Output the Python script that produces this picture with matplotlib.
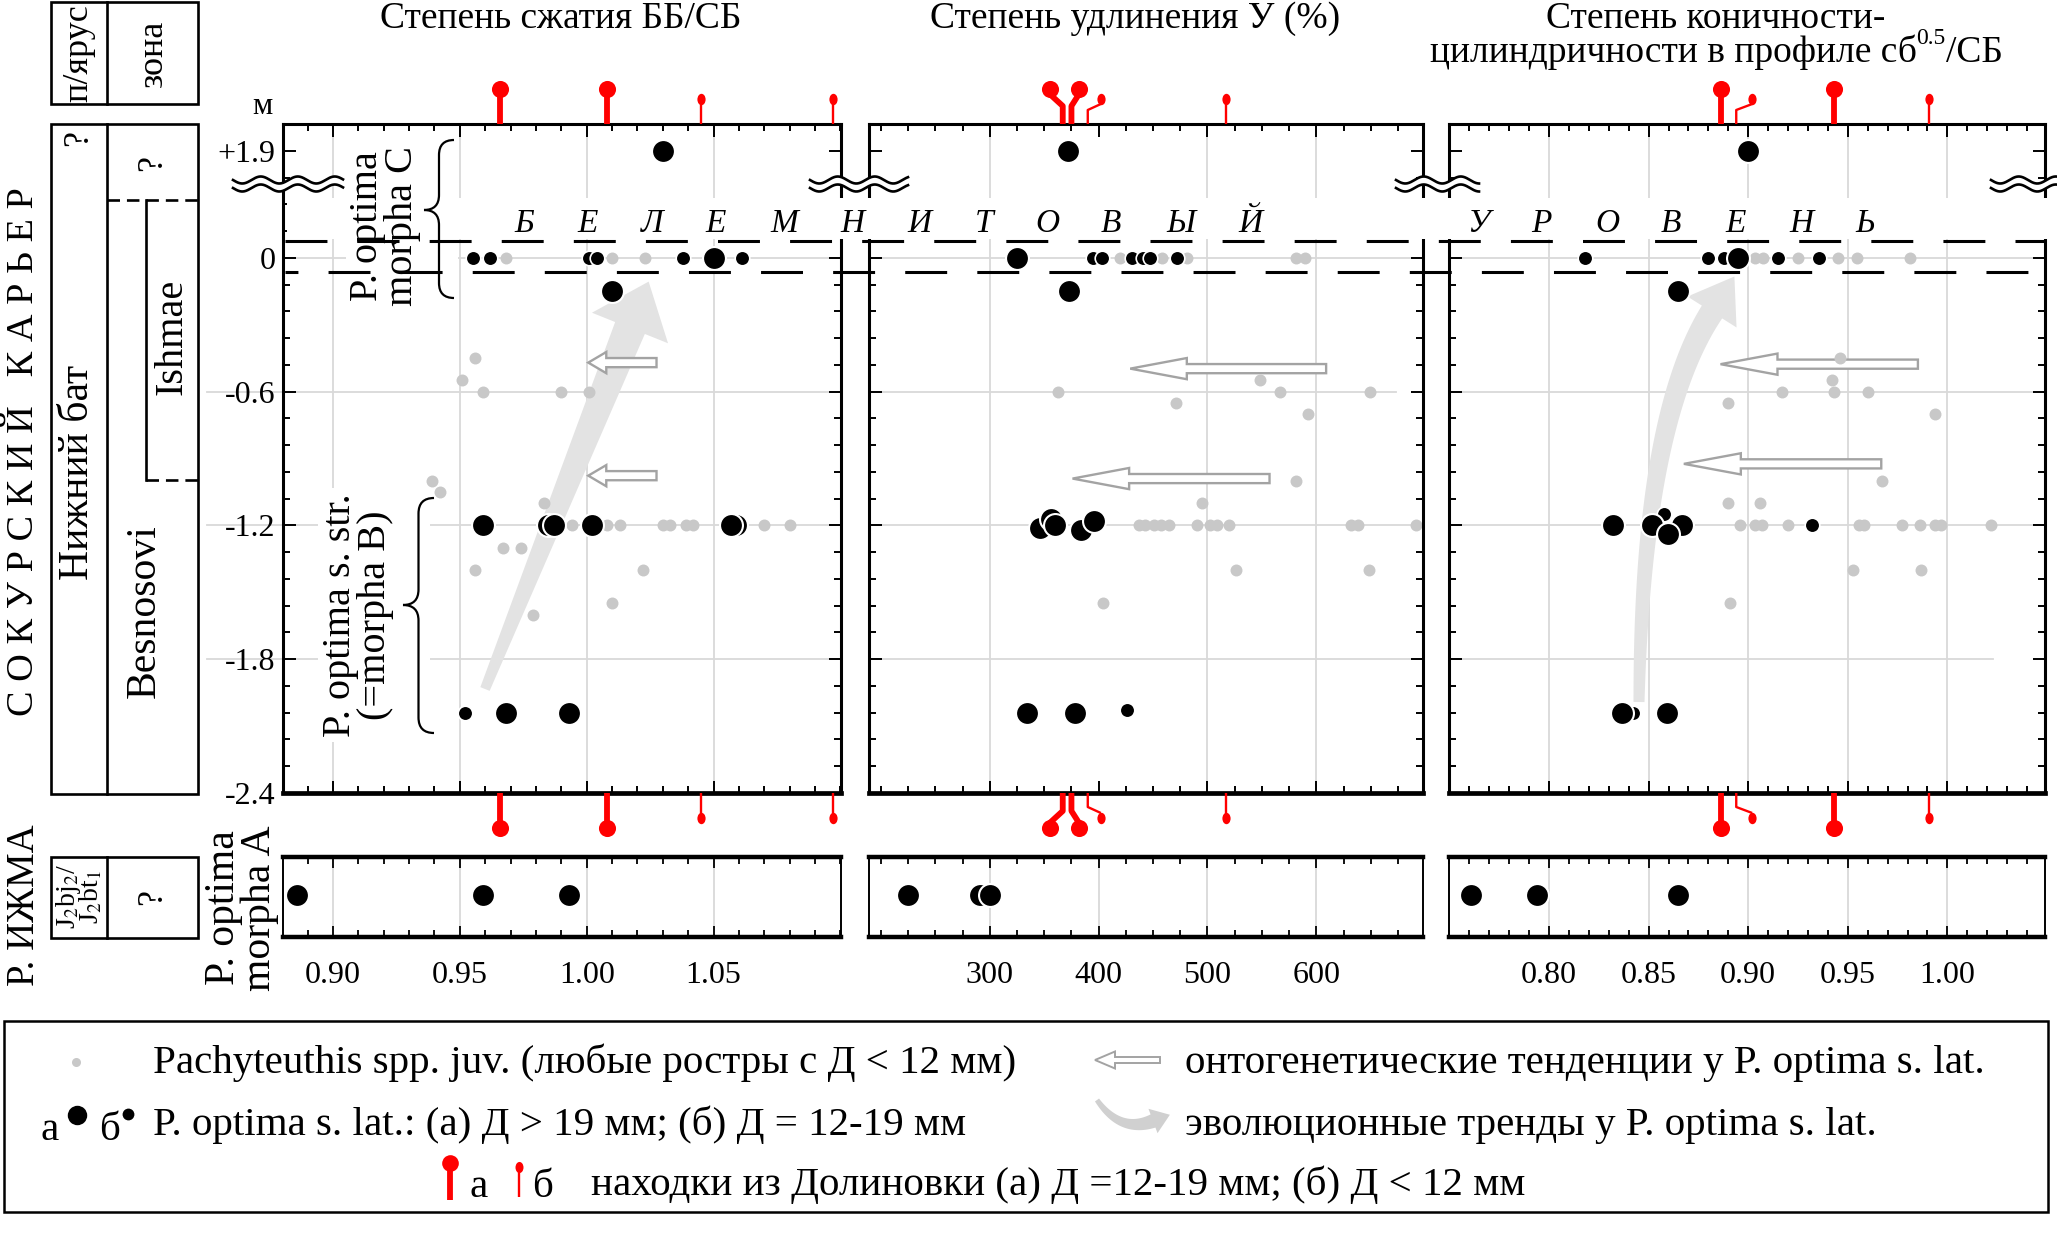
import numpy as np
import matplotlib.pyplot as plt
import matplotlib.transforms as mtransforms
from matplotlib.patches import Polygon, Rectangle, FancyArrow, PathPatch
from matplotlib.path import Path
from matplotlib.markers import MarkerStyle
from matplotlib.ticker import MultipleLocator, FixedLocator

W, H = 2057, 1233
plt.rcParams['font.family'] = ['Liberation Serif', 'DejaVu Serif']
plt.rcParams['mathtext.fontset'] = 'stix'
plt.rcParams['lines.scale_dashes'] = False

# ---------------- data (depth in m; +1.9 sits above the axis break) ----------------
# panel 1: compression BB/SB
p1_juv_x = [0.968, 1.010, 1.023, 0.956, 0.951, 0.959, 0.990, 1.001, 0.939, 0.942, 0.983,
            0.994, 1.008, 1.013, 1.030, 1.033, 1.039, 1.042, 1.070, 1.080,
            0.967, 0.974, 0.956, 1.022, 1.010, 0.979]
p1_juv_d = [0, 0, 0, -0.45, -0.55, -0.6, -0.6, -0.6, -1.0, -1.05, -1.1,
            -1.2, -1.2, -1.2, -1.2, -1.2, -1.2, -1.2, -1.2, -1.2,
            -1.3, -1.3, -1.4, -1.4, -1.55, -1.6]
p1_big_x = [1.030, 1.050, 1.010, 0.959, 0.9847, 0.987, 1.002, 1.0588, 1.057, 0.968, 0.993]
p1_big_d = [1.9, 0, -0.15, -1.2, -1.2, -1.2, -1.2, -1.2, -1.2, -2.04, -2.04]
p1_small_x = [0.955, 0.962, 1.001, 1.004, 1.038, 1.061, 0.952]
p1_small_d = [0, 0, 0, 0, 0, 0, -2.04]

# panel 2: elongation U (%)
p2_juv_x = [420, 458, 481, 581, 590, 548, 363, 567, 649, 471, 592, 581, 495,
            437, 443, 451, 457, 465, 490, 502, 509, 520, 632, 638, 692, 526, 648, 404]
p2_juv_d = [0, 0, 0, 0, 0, -0.55, -0.6, -0.6, -0.6, -0.65, -0.7, -1.0, -1.1,
            -1.2, -1.2, -1.2, -1.2, -1.2, -1.2, -1.2, -1.2, -1.2, -1.2, -1.2, -1.2,
            -1.4, -1.4, -1.55]
p2_big_x = [372, 325, 373, 346, 356, 360, 384, 396, 334, 378]
p2_big_d = [1.9, 0, -0.15, -1.21, -1.17, -1.2, -1.22, -1.18, -2.04, -2.04]
p2_small_x = [395, 403, 431, 441, 447, 472, 426]
p2_small_d = [0, 0, 0, 0, 0, 0, -2.03]

# panel 3: conicity-cylindricity sb^0.5/SB
p3_juv_x = [0.9035, 0.9076, 0.925, 0.945, 0.9545, 0.981,
            0.946, 0.942, 0.917, 0.943, 0.960, 0.890, 0.994, 0.967, 0.890, 0.906,
            0.896, 0.9035, 0.907, 0.920, 0.9555, 0.958, 0.977, 0.986, 0.994, 0.997, 1.022,
            0.9525, 0.987, 0.891]
p3_juv_d = [0, 0, 0, 0, 0, 0,
            -0.45, -0.55, -0.6, -0.6, -0.6, -0.65, -0.7, -1.0, -1.1, -1.1,
            -1.2, -1.2, -1.2, -1.2, -1.2, -1.2, -1.2, -1.2, -1.2, -1.2, -1.2,
            -1.4, -1.4, -1.55]
p3_big_x = [0.900, 0.8947, 0.865, 0.832, 0.8515, 0.867, 0.8595, 0.8365, 0.859]
p3_big_d = [1.9, 0, -0.15, -1.2, -1.2, -1.2, -1.24, -2.04, -2.04]
p3_small_x = [0.818, 0.8796, 0.888, 0.915, 0.9355, 0.8575, 0.932, 0.842]
p3_small_d = [0, 0, 0, 0, 0, -1.15, -1.2, -2.04]

# r. Izhma, P. optima morpha A
iz1 = [0.886, 0.959, 0.993]
iz2 = [225, 291, 300]
iz3 = [0.761, 0.794, 0.865]

# Dolinovka finds: (a) D 12-19 mm, (b) D < 12 mm
dol1_a, dol1_b = [0.966, 1.008], [1.045, 1.097]
dol2_a, dol2_b = [367, 375], [390, 517]
dol3_a, dol3_b = [0.8865, 0.943], [0.894, 0.991]

# ontogenetic tendencies (tail, tip, depth)
onto1 = [(1.0275, 1.0006, -0.47), (1.0275, 1.0006, -0.977)]
onto2 = [(609, 429, -0.497), (557, 376, -0.99)]
onto3 = [(0.9852, 0.8861, -0.477), (0.9668, 0.8677, -0.924)]

# axis text
titles = ['Степень сжатия ББ/СБ', 'Степень удлинения У (%)']
ytick_vals = [-2.4, -1.8, -1.2, -0.6, 0, 1.9]
ytick_labels = ['-2.4', '-1.8', '-1.2', '-0.6', '0', '+1.9']
x_major = [[0.90, 0.95, 1.00, 1.05], [300, 400, 500, 600], [0.80, 0.85, 0.90, 0.95, 1.00]]
x_labels = [['0.90', '0.95', '1.00', '1.05'], ['300', '400', '500', '600'],
            ['0.80', '0.85', '0.90', '0.95', '1.00']]
main_grid = [[0.90, 0.95, 1.00, 1.05], [300, 500, 600], [0.80, 0.85, 0.90, 0.95, 1.00]]
x_minor = [0.01, 25, 0.01]
x_lims = [(0.8803, 1.1002), (189, 698), (0.7498, 1.049)]
level_word1 = list('БЕЛЕМНИТОВЫЙ')
level_word2 = list('УРОВЕНЬ')

# ---------------- layout ----------------
PANEL_X = [(283, 841), (869, 1423), (1449, 2045)]
TOP, BOT = 124, 793
GRID = '#d9d9d9'
JUV = '#c8c8c8'
TREND = '#e3e3e3'
TICK_FS = 23

fig = plt.figure(figsize=(W / 100, H / 100), dpi=100)


def frac(x0, y0, x1, y1):
    return [x0 / W, 1 - y1 / H, (x1 - x0) / W, (y1 - y0) / H]


def fy(ypx):
    return 1 - ypx / H


def brk(d):
    d = np.asarray(d, float)
    return np.where(d > 1.0, 0.48 + (d - 1.9) * 0.1, d)


def tapered(pts, w0, w1, head_w, head_l):
    pts = np.asarray(pts, float)
    d = np.gradient(pts, axis=0)
    d /= np.hypot(d[:, 0], d[:, 1])[:, None]
    nrm = np.column_stack([-d[:, 1], d[:, 0]])
    w = np.linspace(w0, w1, len(pts))[:, None] / 2
    left, right = pts + nrm * w, pts - nrm * w
    base, u, nb = pts[-1], d[-1], nrm[-1]
    tip = base + u * head_l
    poly = np.vstack([left, base + nb * head_w / 2, tip, base - nb * head_w / 2, right[::-1]])
    return np.column_stack([poly[:, 0] / W, 1 - poly[:, 1] / H])


def bezier(p0, p1, p2, p3, n=60):
    t = np.linspace(0, 1, n)[:, None]
    p0, p1, p2, p3 = map(np.asarray, (p0, p1, p2, p3))
    return (1 - t) ** 3 * p0 + 3 * (1 - t) ** 2 * t * p1 + 3 * (1 - t) * t ** 2 * p2 + t ** 3 * p3


ell = Path.unit_circle().transformed(mtransforms.Affine2D().scale(0.72, 1.0))
SMALL_RED = MarkerStyle(ell)


def dolinovka(ax, vals, shifts, big):
    tr = mtransforms.blended_transform_factory(ax.transData, fig.transFigure)
    lw = 4.2 if big else 1.7
    for v, s in zip(vals, shifts):
        for ya, sg in ((TOP, -1), (BOT, 1)):
            ball = ya + sg * (35 if big else 25)
            if s == 0:
                xs, ys = [v, v], [ya, ball]
            else:
                bend = ya + sg * (18 if big else 14)
                xs, ys = [v, v, v + s], [ya, bend, ball - sg * 5]
            ax.plot(xs, [fy(y) for y in ys], color='red', lw=lw, transform=tr,
                    clip_on=False, solid_capstyle='butt', zorder=5)
            if big:
                ax.plot([v + s], [fy(ball)], 'o', ms=12.3, color='red', mew=0,
                        transform=tr, clip_on=False, zorder=5)
            else:
                ax.plot([v + s], [fy(ball)], marker=SMALL_RED, ms=8.2, color='red',
                        mew=0, transform=tr, clip_on=False, zorder=5)


def main_panel(i, juv, big, small, onto, hl):
    x0, x1 = PANEL_X[i]
    ax = fig.add_axes(frac(x0, TOP, x1, BOT))
    ax.set_xlim(*x_lims[i])
    ax.set_ylim(-2.4, 0.6)
    ax.xaxis.set_major_locator(FixedLocator(x_major[i]))
    ax.xaxis.set_minor_locator(MultipleLocator(x_minor[i]))
    ax.yaxis.set_major_locator(FixedLocator(brk(ytick_vals)))
    ax.yaxis.set_minor_locator(MultipleLocator(0.12))
    ax.tick_params(which='both', direction='in', top=True, right=True, width=1.4,
                   labelbottom=False, labelleft=(i == 0), labelsize=TICK_FS, pad=5.5)
    ax.tick_params(which='major', length=9)
    ax.tick_params(which='minor', length=5)
    if i == 0:
        ax.set_yticklabels(ytick_labels)
    for sp in ax.spines.values():
        sp.set_linewidth(2.2)
    ax.spines['bottom'].set_linewidth(3.4)
    for g in main_grid[i]:
        ax.axvline(g, color=GRID, lw=1.3, zorder=0.5)
    for y in (0, -0.6, -1.2, -1.8):
        xmin = -0.136 if (i == 0 and y != 0) else 0
        xmax = 1
        if i == 1 and y == -0.6:
            xmax = 0.951
        if i == 2 and y == -1.8:
            xmax = 0.913
        ax.axhline(y, xmin=xmin, xmax=xmax, color=GRID, lw=1.3, zorder=0.5, clip_on=False)
    for tail, tip, d in onto:
        ax.add_patch(FancyArrow(tail, d, tip - tail, 0, width=0.041, head_width=0.095,
                                head_length=hl, length_includes_head=True, fc='white',
                                ec='#a3a3a3', lw=1.7, zorder=1.6))
    ax.plot(juv[0], brk(juv[1]), 'o', ms=8.6, color=JUV, mew=0, ls='none', zorder=2)
    ax.plot(small[0], brk(small[1]), 'o', ms=10.5, mfc='black', mec='white', mew=1.2,
            ls='none', zorder=3)
    ax.plot(big[0], brk(big[1]), 'o', ms=16.5, mfc='black', mec='white', mew=1.5,
            ls='none', zorder=3.5)
    return ax


def bottom_panel(i, vals):
    x0, x1 = PANEL_X[i]
    ax = fig.add_axes(frac(x0, 857, x1, 937))
    ax.set_xlim(*x_lims[i])
    ax.set_ylim(0, 1)
    ax.set_xticks(x_major[i])
    ax.set_xticklabels(x_labels[i])
    ax.xaxis.set_minor_locator(MultipleLocator(x_minor[i]))
    ax.set_yticks([])
    ax.tick_params(axis='x', which='both', direction='in', top=True, width=1.3,
                   labelsize=TICK_FS, pad=17)
    ax.tick_params(axis='x', which='major', length=8)
    ax.tick_params(axis='x', which='minor', length=5)
    for sp in ax.spines.values():
        sp.set_linewidth(1.4)
    ax.spines['top'].set_linewidth(3.2)
    ax.spines['bottom'].set_linewidth(3.2)
    for g in x_major[i]:
        ax.axvline(g, color=GRID, lw=1.3, zorder=0.5)
    ax.plot(vals, [0.52] * len(vals), 'o', ms=16.5, mfc='black', mec='white', mew=1.5,
            ls='none', zorder=3)
    return ax


ax1 = main_panel(0, (p1_juv_x, p1_juv_d), (p1_big_x, p1_big_d), (p1_small_x, p1_small_d), onto1, 0.0071)
ax2 = main_panel(1, (p2_juv_x, p2_juv_d), (p2_big_x, p2_big_d), (p2_small_x, p2_small_d), onto2, 52)
ax3 = main_panel(2, (p3_juv_x, p3_juv_d), (p3_big_x, p3_big_d), (p3_small_x, p3_small_d), onto3, 0.0286)
bottom_panel(0, iz1)
bottom_panel(1, iz2)
bottom_panel(2, iz3)

dolinovka(ax1, dol1_a, [0, 0], True)
dolinovka(ax1, dol1_b, [0, 0], False)
dolinovka(ax2, dol2_a, [-12, 7], True)
dolinovka(ax2, dol2_b, [12, 0], False)
dolinovka(ax3, dol3_a, [0, 0], True)
dolinovka(ax3, dol3_b, [0.008, 0], False)

# evolutionary trend arrows (light grey, tapered)
trend1 = np.linspace([485, 689], [630, 328], 40)
ax1.add_patch(Polygon(tapered(trend1, 10, 32, 82, 50), closed=True, fc=TREND, ec='none',
                      transform=fig.transFigure, zorder=1))
trend3 = bezier((1639, 702), (1641, 560), (1655, 400), (1712, 312))
ax3.add_patch(Polygon(tapered(trend3, 11, 24, 58, 42), closed=True, fc=TREND, ec='none',
                      transform=fig.transFigure, zorder=1))

# ---------------- overlay for decorations ----------------
ov = fig.add_axes([0, 0, 1, 1], zorder=10)
ov.set_xlim(0, W)
ov.set_ylim(H, 0)
ov.axis('off')
ov.patch.set_alpha(0)

# white band of the belemnite level + dashed boundaries
ov.add_patch(Rectangle((287, 198), 2052 - 287, 41, fc='white', ec='none'))
ov.plot([285, 2046], [241, 241], color='k', lw=2.2, ls=(0, (30.2, 21.7)))
ov.plot([285, 2046], [272, 272], color='k', lw=2.2, ls=(20.9, (30.2, 21.7)))
for ch, x in zip(level_word1, [524, 588, 652, 716, 784, 852, 919, 984, 1047, 1111, 1181, 1250]):
    ov.text(x, 232, ch, fontsize=24, style='italic', ha='center', va='baseline')
for ch, x in zip(level_word2, [1478, 1541, 1607, 1671, 1736, 1801, 1865]):
    ov.text(x, 232, ch, fontsize=24, style='italic', ha='center', va='baseline')


def wave(x0, x1, yc=184):
    xs = np.linspace(x0, x1, 300)
    ph = 2 * np.pi * (xs - x0) / 37.0
    ya = yc - 4 + 3.5 * np.sin(ph)
    yb = yc + 4 + 3.5 * np.sin(ph)
    ov.fill_between(xs, ya, yb, color='white', lw=0)
    ov.plot(xs, ya, color='k', lw=1.9)
    ov.plot(xs, yb, color='k', lw=1.9)


for a, b in [(233, 343), (810, 908), (1396, 1479), (1991, 2057)]:
    wave(a, b)


def brace(xt, xb, y0, y1, ym):
    xm = (xt + xb) / 2
    r = (xb - xt) / 2
    verts = [(xb, y0), (xm, y0), (xm, y0 + r), (xm, ym - r), (xm, ym), (xt, ym),
             (xm, ym), (xm, ym + r), (xm, y1 - r), (xm, y1), (xb, y1)]
    codes = [Path.MOVETO, Path.CURVE3, Path.CURVE3, Path.LINETO, Path.CURVE3, Path.CURVE3,
             Path.CURVE3, Path.CURVE3, Path.LINETO, Path.CURVE3, Path.CURVE3]
    ov.add_patch(PathPatch(Path(verts, codes), fc='none', ec='k', lw=1.6))


# group labels inside panel 1
ov.add_patch(Rectangle((346, 140), 112, 165, fc='white', ec='none'))
ov.text(385, 226, 'P. optima\nmorpha C', rotation=90, fontsize=29, ha='center', va='center',
        linespacing=0.9)
brace(424, 454, 140, 298, 210)
ov.add_patch(Rectangle((318, 488), 112, 254, fc='white', ec='none'))
ov.text(358, 615, 'P. optima s. str.\n(=morpha B)', rotation=90, fontsize=29, ha='center',
        va='center', linespacing=0.9)
brace(403, 434, 498, 733, 605)
ov.text(242, 908, 'P. optima\nmorpha A', rotation=90, fontsize=30, ha='center', va='center',
        linespacing=0.9)
ov.text(262, 107, 'м', fontsize=23, ha='center', va='center')

# column titles
ov.text(561, 28, titles[0], fontsize=27, ha='center', va='baseline')
ov.text(1135, 28, titles[1], fontsize=27, ha='center', va='baseline')
ov.text(1716, 28, 'Степень коничности-', fontsize=27, ha='center', va='baseline')
# second line of the third title, with a raised "0.5"
renderer = fig.canvas.get_renderer()
parts = [ov.text(0, 62, 'цилиндричности в профиле сб', fontsize=27, va='baseline'),
         ov.text(0, 44, '0.5', fontsize=17, va='baseline'),
         ov.text(0, 62, '/СБ', fontsize=27, va='baseline')]
widths = [p.get_window_extent(renderer).width for p in parts]
x = 1716 - sum(widths) / 2
for p, w in zip(parts, widths):
    p.set_x(x)
    x += w

# stratigraphic column
LWB = 1.9
for y0, y1 in [(2, 104), (124, 794), (857, 938)]:
    ov.add_patch(Rectangle((51, y0), 147, y1 - y0, fill=False, ec='k', lw=LWB))
    ov.plot([107, 107], [y0, y1], color='k', lw=LWB)
ov.plot([107, 198], [200, 200], color='k', lw=LWB, ls=(0, (9, 5)))
ov.plot([146, 146], [200, 480], color='k', lw=LWB)
ov.plot([146, 198], [480, 480], color='k', lw=LWB, ls=(0, (9, 5)))
ov.text(79, 53, 'п/ярус', rotation=90, fontsize=26, ha='center', va='center')
ov.text(153, 53, 'зона', rotation=90, fontsize=26, ha='center', va='center')
ov.text(79, 138, '?', rotation=90, fontsize=26, ha='center', va='center')
ov.text(153, 163, '?', rotation=90, fontsize=26, ha='center', va='center')
ov.text(172, 337, 'Ishmae', rotation=90, fontsize=29, ha='center', va='center')
ov.text(145, 611, 'Besnosovi', rotation=90, fontsize=30, ha='center', va='center')
ov.text(78, 472, 'Нижний бат', rotation=90, fontsize=30, ha='center', va='center')
ov.text(24, 452, 'С О К У Р С К И Й   К А Р Ь Е Р', rotation=90, fontsize=27.5, ha='center',
        va='center')
ov.text(24, 905, 'Р. ИЖМА', rotation=90, fontsize=28, ha='center', va='center')
ov.text(79, 897, 'J$_2$bj$_2$/\nJ$_2$bt$_1$', rotation=90, fontsize=20, ha='center',
        va='center', linespacing=0.75)
ov.text(153, 897, '?', rotation=90, fontsize=26, ha='center', va='center')

# legend
LEG_FS = 29.5
ov.add_patch(Rectangle((4, 1021), 2044, 191, fill=False, ec='k', lw=1.8))
ov.plot([76], [1062], 'o', ms=6.5, color=JUV, mew=0)
ov.text(153, 1073, 'Pachyteuthis spp. juv. (любые ростры с Д < 12 мм)', fontsize=LEG_FS,
        va='baseline')
ov.add_patch(FancyArrow(1160, 1060, -65, 0, width=6, head_width=17, head_length=20,
                        length_includes_head=True, fc='white', ec='#a3a3a3', lw=1.4))
ov.text(1185, 1073, 'онтогенетические тенденции у P. optima s. lat.', fontsize=LEG_FS,
        va='baseline')
ov.text(50, 1140, 'а', fontsize=LEG_FS, ha='center', va='baseline')
ov.plot([77], [1115], 'o', ms=14, color='black', mew=0)
ov.text(110, 1140, 'б', fontsize=LEG_FS, ha='center', va='baseline')
ov.plot([128], [1114], 'o', ms=8.5, color='black', mew=0)
ov.text(153, 1135, 'P. optima s. lat.: (а) Д > 19 мм; (б) Д = 12-19 мм', fontsize=LEG_FS,
        va='baseline')
swoosh = bezier((1097, 1100), (1115, 1126), (1135, 1128), (1153, 1121), 30)
poly = tapered(swoosh, 5, 14, 26, 18)
ov.add_patch(Polygon(np.column_stack([poly[:, 0] * W, (1 - poly[:, 1]) * H]), closed=True,
                     fc='#d0d0d0', ec='none'))
ov.text(1185, 1135, 'эволюционные тренды у P. optima s. lat.', fontsize=LEG_FS, va='baseline')
ov.plot([450, 450], [1170, 1200], color='red', lw=4.2, solid_capstyle='butt')
ov.plot([450], [1163], 'o', ms=12, color='red', mew=0)
ov.text(479, 1197, 'а', fontsize=LEG_FS, ha='center', va='baseline')
ov.plot([519, 519], [1172, 1197], color='red', lw=1.7, solid_capstyle='butt')
ov.plot([519], [1167], marker=SMALL_RED, ms=8, color='red', mew=0)
ov.text(543, 1197, 'б', fontsize=LEG_FS, ha='center', va='baseline')
ov.text(591, 1195, 'находки из Долиновки (а) Д =12-19 мм; (б) Д < 12 мм', fontsize=LEG_FS,
        va='baseline')

fig.savefig('out.png', dpi=100, facecolor='white')
